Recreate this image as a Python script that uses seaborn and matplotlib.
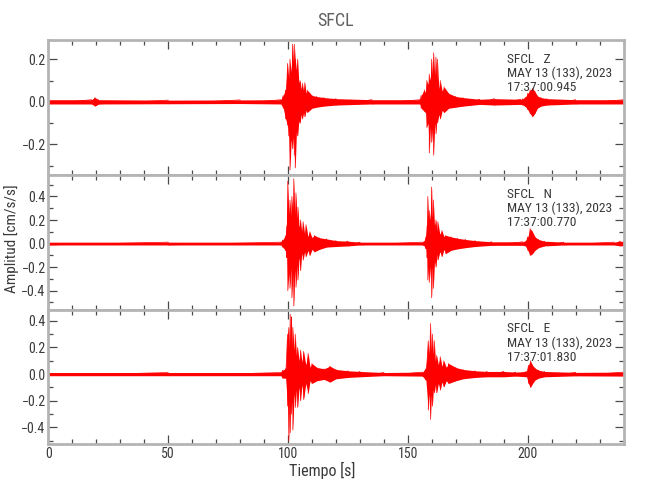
import numpy as np
import pandas as pd
import matplotlib
matplotlib.use('Agg')
import matplotlib.pyplot as plt
from matplotlib.ticker import MultipleLocator
import seaborn as sns

# Envolvente de cada componente (tiempo [s], máximo y mínimo en cm/s/s)
t_z = [0, 18, 19.5, 21, 50, 80, 97, 98, 99, 99.8, 100.3, 100.8, 101.3, 101.9, 102.3, 102.6,
       103.0, 103.5, 104.0, 104.5, 105.0, 105.5, 106.0, 106.5, 107.0, 107.5, 108.0, 110, 112,
       115, 120, 135, 155, 155.5, 156.9, 157.4, 157.9, 158.4, 158.9, 159.4, 159.9, 160.3,
       160.7, 161.2, 161.7, 162.0, 162.3, 162.9, 163.5, 164.3, 165.1, 167, 170, 173, 180,
       186, 197, 198, 199, 200, 201, 202, 203, 204, 205.5, 208, 220, 240]
up_z = [0.010, 0.010, 0.020, 0.010, 0.008, 0.009, 0.010, 0.030, 0.056, 0.180, 0.110, 0.200,
        0.140, 0.270, 0.180, 0.270, 0.200, 0.150, 0.200, 0.090, 0.100, 0.060, 0.087, 0.050,
        0.090, 0.040, 0.056, 0.030, 0.025, 0.020, 0.015, 0.010, 0.010, 0.030, 0.056, 0.040,
        0.100, 0.080, 0.130, 0.100, 0.200, 0.120, 0.230, 0.120, 0.210, 0.100, 0.200, 0.060,
        0.100, 0.050, 0.070, 0.040, 0.025, 0.020, 0.012, 0.015, 0.012, 0.015, 0.022, 0.040,
        0.056, 0.064, 0.048, 0.028, 0.020, 0.015, 0.010, 0.010]
lo_z = [-0.010, -0.010, -0.020, -0.010, -0.009, -0.008, -0.010, -0.030, -0.080, -0.110,
        -0.160, -0.320, -0.180, -0.220, -0.160, -0.250, -0.310, -0.140, -0.160, -0.090,
        -0.100, -0.060, -0.080, -0.050, -0.070, -0.040, -0.050, -0.030, -0.025, -0.020,
        -0.015, -0.010, -0.010, -0.030, -0.045, -0.050, -0.120, -0.100, -0.240, -0.120,
        -0.190, -0.120, -0.250, -0.100, -0.150, -0.080, -0.100, -0.060, -0.080, -0.040,
        -0.050, -0.030, -0.025, -0.020, -0.012, -0.015, -0.012, -0.015, -0.022, -0.037,
        -0.056, -0.069, -0.053, -0.030, -0.020, -0.015, -0.010, -0.010]

t_n = [0, 50, 97, 97.7, 99.1, 99.5, 99.9, 100.3, 100.8, 101.2, 101.6, 102.0, 102.4, 102.8,
       103.3, 103.7, 104.1, 104.6, 105.2, 105.7, 106.3, 106.9, 107.5, 108.3, 109.1, 110, 111,
       113, 116, 120, 125, 130, 156, 156.8, 157.5, 158.0, 158.3, 158.6, 158.9, 159.4, 159.9,
       160.2, 160.6, 161.1, 161.7, 162.1, 162.5, 163.3, 164.2, 165.0, 165.8, 168, 170.7, 174,
       178, 185, 198, 199, 200, 201, 202, 203, 204.5, 207, 215, 236, 238.5, 240]
up_n = [0.012, 0.012, 0.012, 0.030, 0.070, 0.150, 0.530, 0.250, 0.370, 0.220, 0.400, 0.250,
        0.550, 0.250, 0.430, 0.200, 0.310, 0.140, 0.200, 0.100, 0.185, 0.080, 0.160, 0.060,
        0.100, 0.050, 0.070, 0.050, 0.040, 0.025, 0.020, 0.012, 0.012, 0.020, 0.057, 0.150,
        0.400, 0.200, 0.280, 0.200, 0.480, 0.220, 0.370, 0.150, 0.200, 0.100, 0.185, 0.080,
        0.110, 0.060, 0.070, 0.057, 0.045, 0.035, 0.025, 0.015, 0.015, 0.020, 0.057, 0.128,
        0.100, 0.057, 0.035, 0.020, 0.012, 0.012, 0.020, 0.018]
lo_n = [-0.012, -0.012, -0.012, -0.030, -0.060, -0.120, -0.400, -0.250, -0.380, -0.200,
        -0.460, -0.250, -0.530, -0.220, -0.370, -0.180, -0.310, -0.120, -0.230, -0.080,
        -0.140, -0.070, -0.110, -0.060, -0.100, -0.050, -0.070, -0.050, -0.030, -0.025,
        -0.020, -0.012, -0.012, -0.020, -0.043, -0.120, -0.310, -0.200, -0.330, -0.200,
        -0.460, -0.200, -0.380, -0.150, -0.200, -0.090, -0.140, -0.070, -0.110, -0.050,
        -0.085, -0.057, -0.045, -0.035, -0.025, -0.015, -0.015, -0.020, -0.057, -0.100,
        -0.085, -0.057, -0.035, -0.020, -0.012, -0.012, -0.020, -0.018]

t_e = [0, 50, 97, 97.7, 99, 99.8, 100.3, 100.6, 100.9, 101.2, 101.4, 101.7, 102, 102.5, 103,
       103.5, 104, 104.6, 105.2, 105.8, 106.5, 107.4, 108.4, 109.2, 110, 112, 115, 117.5, 120,
       125, 130, 140, 156, 157.5, 158.5, 158.9, 159.4, 159.8, 160.2, 160.6, 161, 161.5, 162,
       162.7, 163.5, 164.2, 165, 166, 167, 170, 173, 178, 183, 190, 195, 199.5, 200.3, 201.1,
       202, 203, 204.5, 207, 220, 240]
up_e = [0.012, 0.012, 0.012, 0.030, 0.040, 0.300, 0.350, 0.200, 0.450, 0.250, 0.430, 0.200,
        0.350, 0.180, 0.300, 0.140, 0.200, 0.100, 0.180, 0.090, 0.170, 0.070, 0.155, 0.050,
        0.080, 0.050, 0.040, 0.060, 0.035, 0.025, 0.020, 0.012, 0.015, 0.040, 0.250, 0.150,
        0.380, 0.180, 0.300, 0.150, 0.250, 0.090, 0.140, 0.070, 0.130, 0.060, 0.100, 0.050,
        0.080, 0.050, 0.035, 0.025, 0.020, 0.020, 0.015, 0.020, 0.067, 0.100, 0.067, 0.045,
        0.030, 0.020, 0.013, 0.015]
lo_e = [-0.012, -0.012, -0.012, -0.030, -0.030, -0.240, -0.500, -0.200, -0.440, -0.200,
        -0.300, -0.200, -0.420, -0.150, -0.250, -0.120, -0.250, -0.100, -0.200, -0.080,
        -0.190, -0.070, -0.145, -0.050, -0.070, -0.050, -0.040, -0.060, -0.035, -0.025,
        -0.020, -0.012, -0.015, -0.045, -0.270, -0.150, -0.340, -0.160, -0.240, -0.120,
        -0.140, -0.080, -0.140, -0.070, -0.120, -0.060, -0.095, -0.050, -0.070, -0.050,
        -0.035, -0.025, -0.020, -0.020, -0.015, -0.020, -0.070, -0.100, -0.070, -0.045,
        -0.030, -0.020, -0.013, -0.015]

componentes = ['Z', 'N', 'E']
horas = ['17:37:00.945', '17:37:00.770', '17:37:01.830']
limites_y = [(-0.342, 0.29), (-0.56, 0.584), (-0.527, 0.485)]
estacion = 'SFCL'
fecha = 'MAY 13 (133), 2023'

trazas = [(t_z, up_z, lo_z), (t_n, up_n, lo_n), (t_e, up_e, lo_e)]
for t, up, lo in trazas:
    assert len(t) == len(up) == len(lo)

sns.set_style('ticks')
plt.rcParams['font.family'] = ['Roboto Condensed', 'Liberation Sans']

fig = plt.figure(figsize=(6.5, 5), dpi=100)
gs = fig.add_gridspec(3, 1, left=0.0743, right=0.9595, top=0.92, bottom=0.1114, hspace=0)
axes = []
for i in range(3):
    ax = fig.add_subplot(gs[i], sharex=axes[0] if axes else None)
    axes.append(ax)

gris_eje = '#b4b4b4'
gris_tick = '#4a4a4a'
gris_txt = '#3a3a3a'

for i, ax in enumerate(axes):
    t, up, lo = trazas[i]
    ax.fill_between(t, lo, up, color='red', lw=0)
    # trazo en zigzag entre máximo y mínimo
    zz = pd.DataFrame({'t': np.repeat(t, 2),
                       'amp': np.column_stack([up, lo]).ravel()})
    sns.lineplot(data=zz, x='t', y='amp', sort=False, estimator=None,
                 color='red', lw=0.5, ax=ax)

    ax.set_xlim(0, 240)
    ax.set_ylim(*limites_y[i])
    ax.xaxis.set_major_locator(MultipleLocator(50))
    ax.xaxis.set_minor_locator(MultipleLocator(10))
    ax.yaxis.set_major_locator(MultipleLocator(0.2))
    ax.yaxis.set_minor_locator(MultipleLocator(0.1))
    ax.tick_params(which='both', direction='in', top=True, right=True,
                   color=gris_tick, labelcolor=gris_txt, labelsize=10, pad=2)
    ax.tick_params(which='major', length=6.5, width=0.9)
    ax.tick_params(which='minor', length=3.5, width=0.9)
    for s in ax.spines.values():
        s.set_color(gris_eje)
        s.set_linewidth(2)
    ax.set_xlabel('')
    ax.set_ylabel('')
    if i < 2:
        ax.tick_params(labelbottom=False)

    ax.text(0.797, 0.905,
            f'{estacion}   {componentes[i]}\n{fecha}\n{horas[i]}',
            transform=ax.transAxes, ha='left', va='top', fontsize=9.7,
            color=gris_txt, linespacing=1.1)

fig.text(0.517, 0.958, estacion, ha='center', va='center', fontsize=13, color='#606060')
fig.text(0.495, 0.06, 'Tiempo [s]', ha='center', va='center', fontsize=11.5, color=gris_txt)
fig.text(0.018, 0.523, 'Amplitud [cm/s/s]', ha='center', va='center', rotation=90,
         fontsize=11, color=gris_txt)

fig.savefig('out.png', dpi=100, facecolor='white')
plt.close(fig)
